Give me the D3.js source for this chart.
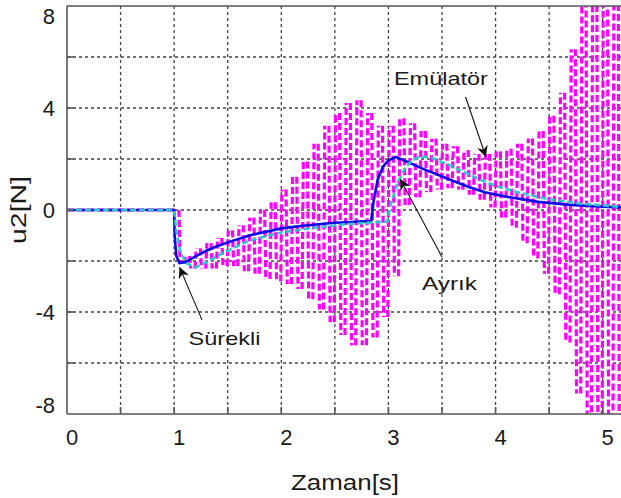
<!DOCTYPE html>
<html>
<head>
<meta charset="utf-8">
<script src="https://d3js.org/d3.v7.min.js"></script>
<style>
    body { margin: 0; background: #fff; }
    svg text { font-family: "Liberation Sans", Arial, sans-serif; fill: #1a1a1a; }
</style>
</head>
<body>
<script>
    // axis ticks and grid
    const xTicks = [0, 1, 2, 3, 4, 5];
    const yTicks = [-8, -4, 0, 4, 8];
    const xGrid = [0.5, 1, 1.5, 2, 2.5, 3, 3.5, 4, 4.5, 5];
    const yGrid = [-6, -4, -2, 0, 2, 4, 6];

    // Sürekli (continuous controller) : [t, u2]
    const surekli = [
        [0, 0], [1.0, 0], [1.005, -1.0], [1.02, -1.8], [1.05, -2.08], [1.1, -2.05],
        [1.2, -1.82], [1.3, -1.6], [1.4, -1.42], [1.5, -1.27], [1.7, -1.0], [2.0, -0.72],
        [2.2, -0.62], [2.5, -0.5], [2.84, -0.43], [2.86, 0.3], [2.9, 1.2], [2.95, 1.7],
        [3.0, 1.95], [3.07, 2.08], [3.2, 1.85], [3.3, 1.65], [3.45, 1.4], [3.6, 1.15],
        [3.75, 0.9], [3.9, 0.7], [4.1, 0.52], [4.4, 0.32], [4.7, 0.2], [5.0, 0.13], [5.18, 0.1]
    ];

    // Ayrık (discrete controller) : [t, u2]
    const ayrik = [
        [0, 0], [1.0, 0], [1.02, -0.8], [1.06, -1.7], [1.12, -2.1], [1.2, -2.25],
        [1.3, -2.05], [1.45, -1.7], [1.7, -1.2], [2.0, -0.88], [2.3, -0.7], [2.6, -0.56],
        [2.99, -0.45], [3.02, 0.2], [3.08, 1.0], [3.15, 1.6], [3.22, 1.95], [3.3, 2.1],
        [3.4, 2.05], [3.55, 1.8], [3.7, 1.5], [3.85, 1.2], [4.0, 0.95], [4.2, 0.7],
        [4.5, 0.42], [4.8, 0.25], [5.18, 0.12]
    ];

    // Emülatör : samples every emuStep seconds from emuStart (before that it is 0)
    const emuStart = 1.0, emuStep = 0.05;
    const emulator = [
        0, -2.1, -1.8, -2.3, -1.5, -2.3, -1.3, -2.3, -1.1, -2.2,
        -0.8, -2.2, -0.6, -2.4, -0.3, -2.5, 0.0, -2.7, 0.3, -2.8,
        0.8, -2.9, 1.3, -3.1, 1.9, -3.5, 2.6, -3.9, 3.3, -4.4,
        3.8, -4.9, 4.2, -5.3, 4.3, -5.3, 3.8, -5.0, 3.3, -4.2,
        3.3, -2.6, 3.6, 0.2, 3.4, 0.5, 3.1, 0.7, 2.8, 0.8,
        2.6, 0.85, 2.5, 0.8, 2.35, 0.6, 2.2, 0.4, 2.2, 0.1,
        2.3, -0.3, 2.4, -0.7, 2.6, -1.3, 2.8, -1.9, 3.1, -2.5,
        3.7, -3.3, 4.6, -5.2, 6.3, -7.2, 9, -9.5, 10, -10.5,
        11, -11, 12, -12, 12
    ];

    // annotations: label position and arrow (from -> tip), data units
    const notes = [
        { text: "Emülatör", x: 3.49, y: 4.9, len: 94, from: [3.72, 4.43], to: [3.91, 2.08] },
        { text: "Ayrık", x: 3.57, y: -3.14, len: 55, from: [3.50, -1.84], to: [3.11, 1.22] },
        { text: "Sürekli", x: 1.47, y: -5.3, len: 72, from: [1.26, -4.31], to: [1.05, -2.24] }
    ];

    const width = 621, height = 498;

    const svg = d3.select("body").append("svg")
        .attr("width", width)
        .attr("height", height);

    const x = d3.scaleLinear().domain([0, 5.18]).range([67, 622]);
    const y = d3.scaleLinear().domain([-8, 8]).range([414, 6]);

    svg.append("defs").append("clipPath").attr("id", "plot")
        .append("rect")
        .attr("x", x(0)).attr("y", y(8))
        .attr("width", x(5.18) - x(0)).attr("height", y(-8) - y(8));

    const arrow = svg.select("defs").append("marker")
        .attr("id", "head")
        .attr("viewBox", "0 0 10 10")
        .attr("refX", 10).attr("refY", 5)
        .attr("markerWidth", 11).attr("markerHeight", 11)
        .attr("markerUnits", "userSpaceOnUse")
        .attr("orient", "auto");
    arrow.append("path").attr("d", "M0,0 L10,5 L0,10 L3,5 Z").attr("fill", "#111");

    // grid
    const grid = svg.append("g")
        .attr("stroke", "#444")
        .attr("stroke-width", 1.3)
        .attr("stroke-dasharray", "3,3");
    grid.selectAll(".gx").data(xGrid).enter().append("line")
        .attr("x1", d => x(d)).attr("x2", d => x(d))
        .attr("y1", y(8)).attr("y2", y(-8));
    grid.selectAll(".gy").data(yGrid).enter().append("line")
        .attr("x1", x(0)).attr("x2", x(5.18))
        .attr("y1", d => y(d)).attr("y2", d => y(d));

    const line = d3.line().x(d => x(d[0])).y(d => y(d[1]));

    // Emülatör: every sample jump is one near-vertical dashed stroke
    const emuPts = emulator.map((v, i) => [emuStart + i * emuStep, v]);
    const emuPath = d3.path();
    emuPath.moveTo(x(0), y(0));
    emuPath.lineTo(x(emuStart), y(0));
    emuPts.slice(1).forEach((p, i) => {
        emuPath.moveTo(x(p[0]) - 0.6, y(emuPts[i][1]));
        emuPath.lineTo(x(p[0]) + 0.6, y(p[1]));
    });
    svg.append("path")
        .attr("clip-path", "url(#plot)")
        .attr("d", emuPath.toString())
        .attr("fill", "none")
        .attr("stroke", "#ff00ff")
        .attr("stroke-width", 3.2)
        .attr("stroke-dasharray", "7,3");

    // Sürekli
    svg.append("path")
        .attr("clip-path", "url(#plot)")
        .attr("d", line(surekli))
        .attr("fill", "none")
        .attr("stroke", "#0a0ae6")
        .attr("stroke-width", 2.6);

    // Ayrık
    svg.append("path")
        .attr("clip-path", "url(#plot)")
        .attr("d", line(ayrik))
        .attr("fill", "none")
        .attr("stroke", "#2ec8c8")
        .attr("stroke-width", 2.6)
        .attr("stroke-dasharray", "6,3");

    // frame
    const frame = svg.append("g").attr("stroke", "#555").attr("stroke-width", 1.6);
    frame.append("line").attr("x1", x(0)).attr("x2", x(0)).attr("y1", y(8)).attr("y2", y(-8));
    frame.append("line").attr("x1", x(0)).attr("x2", x(5.18)).attr("y1", y(-8)).attr("y2", y(-8));
    frame.append("line").attr("x1", x(0)).attr("x2", x(5.18)).attr("y1", y(8)).attr("y2", y(8));

    // inward ticks
    frame.selectAll(".tx").data(xGrid).enter().append("line")
        .attr("x1", d => x(d)).attr("x2", d => x(d))
        .attr("y1", y(-8)).attr("y2", y(-8) - 7);
    frame.selectAll(".ty").data(yGrid).enter().append("line")
        .attr("x1", x(0)).attr("x2", x(0) + 7)
        .attr("y1", d => y(d)).attr("y2", d => y(d));

    // tick labels
    svg.selectAll(".xl").data(xTicks).enter().append("text")
        .attr("x", d => x(d) + 5)
        .attr("y", y(-8) + 31)
        .attr("text-anchor", "middle")
        .attr("font-size", 22)
        .text(d => d);
    svg.selectAll(".yl").data(yTicks).enter().append("text")
        .attr("x", x(0) - 12)
        .attr("y", d => y(d) + 8 + (d === 8 ? 10 : d === -8 ? -9 : 0))
        .attr("text-anchor", "end")
        .attr("font-size", 22)
        .text(d => d);

    // axis titles
    svg.append("text")
        .attr("x", 345).attr("y", 490)
        .attr("text-anchor", "middle")
        .attr("font-size", 22)
        .attr("textLength", 108).attr("lengthAdjust", "spacingAndGlyphs")
        .text("Zaman[s]");
    svg.append("text")
        .attr("transform", `translate(26,${y(0)}) rotate(-90)`)
        .attr("text-anchor", "middle")
        .attr("font-size", 22)
        .attr("textLength", 68).attr("lengthAdjust", "spacingAndGlyphs")
        .text("u2[N]");

    // annotations
    const ann = svg.append("g");
    ann.selectAll("line").data(notes).enter().append("line")
        .attr("x1", d => x(d.from[0])).attr("y1", d => y(d.from[1]))
        .attr("x2", d => x(d.to[0])).attr("y2", d => y(d.to[1]))
        .attr("stroke", "#111")
        .attr("stroke-width", 1.1)
        .attr("marker-end", "url(#head)");
    ann.selectAll("text").data(notes).enter().append("text")
        .attr("x", d => x(d.x)).attr("y", d => y(d.y))
        .attr("text-anchor", "middle")
        .attr("font-size", 19)
        .attr("textLength", d => d.len).attr("lengthAdjust", "spacingAndGlyphs")
        .text(d => d.text);
</script>
</body>
</html>
